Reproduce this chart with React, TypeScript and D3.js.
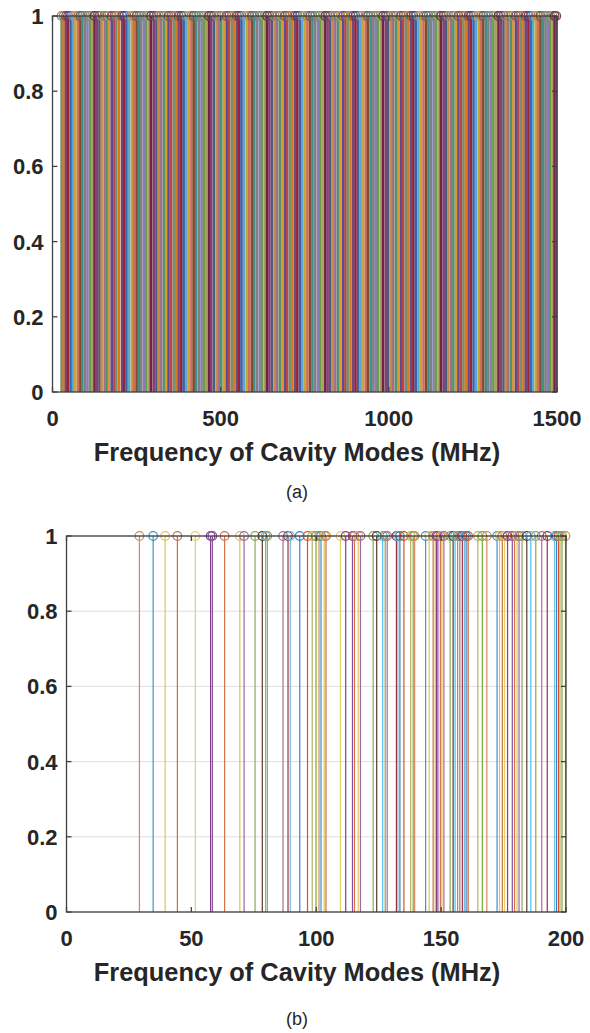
import React from 'react';
import * as d3 from 'd3';

// stem positions, MHz (dense, every stem at height 1)
const modesA = [
  27, 33, 40, 46, 54, 61, 68, 76, 83, 89, 97, 104, 112, 118, 125, 133, 140, 146, 155, 162,
  168, 176, 184, 190, 198, 207, 213, 220, 228, 236, 242, 250, 258, 264, 272, 279, 287, 293,
  301, 309, 316, 323, 331, 338, 345, 353, 361, 368, 375, 383, 390, 398, 405, 413, 420, 427,
  435, 443, 450, 457, 465, 472, 480, 488, 495, 502, 510, 518, 525, 533, 540, 548, 555, 562,
  570, 578, 585, 593, 600, 608, 616, 623, 631, 638, 645, 653, 661, 668, 676, 683, 691, 698,
  706, 713, 721, 728, 736, 743, 751, 758, 766, 773, 781, 789, 796, 803, 811, 818, 826, 834,
  841, 849, 856, 864, 871, 878, 886, 894, 901, 909, 916, 923, 931, 938, 946, 954, 961, 968,
  976, 983, 991, 998, 1006, 1013, 1021, 1028, 1036, 1043, 1051, 1058, 1066, 1073, 1080, 1088,
  1095, 1103, 1111, 1118, 1125, 1133, 1140, 1148, 1155, 1163, 1170, 1177, 1185, 1192, 1200,
  1207, 1215, 1222, 1229, 1237, 1244, 1252, 1259, 1267, 1274, 1281, 1289, 1296, 1304, 1311,
  1318, 1326, 1333, 1341, 1348, 1355, 1363, 1370, 1378, 1385, 1392, 1400, 1407, 1415, 1422,
  1429, 1437, 1444, 1451, 1459, 1466, 1473, 1480, 1487, 1493, 1498,
];

// stem positions, MHz
const modesB = [
  29.2, 34.7, 39.5, 44.4, 51.6, 57.7, 58.4, 63.3, 69.4, 71.1, 75.5, 78.4, 79.7, 80.4, 86.7,
  88.7, 89.6, 93.4, 96.5, 98.4, 99.9, 101.1, 101.9, 103.2, 103.9, 109.7, 111.8, 114.5, 115.3,
  116.8, 117.7, 122.8, 124.2, 126.6, 127.6, 128.4, 132.1, 132.7, 133.5, 135.1, 137.8, 138.8,
  139.4, 143.8, 145.2, 146.8, 147.6, 148.1, 148.7, 149.7, 150.3, 151.1, 153.6, 154.8, 155.6,
  156.6, 157.5, 158.5, 159.3, 160.0, 160.8, 164.7, 166.5, 168.3, 172.4, 173.4, 174.5, 175.4,
  176.6, 178.5, 179.4, 180.4, 181.2, 182.4, 184.3, 185.9, 187.9, 190.3, 192.5, 195.4, 196.2,
  197.0, 197.6, 198.4, 199.8,
];

const yTicks = [0, 0.2, 0.4, 0.6, 0.8, 1];
const xTicksA = [0, 500, 1000, 1500];
const xTicksB = [0, 50, 100, 150, 200];

const paletteA = [
  '#6f9272', '#d9781f', '#6c4a82', '#9a2336', '#3b64a8', '#5aa6d6', '#c4a838', '#d46a5a',
  '#7f4e30', '#3f8e88', '#808080', '#8c7cbc', '#66a040', '#ad9c68', '#6e2442', '#844274',
  '#4c5c80', '#c28c48', '#a66c8e', '#4a966c', '#dc962e', '#5c4c98', '#bb4444',
];
const paletteB = [
  '#d08a5c', '#3d94c8', '#e3c35a', '#c8704a', '#e6cf6a', '#7e3f8e', '#8a4f9a', '#d8704a',
  '#e0c060', '#9a6aa0', '#8aaa5a', '#5a3a2a', '#4dbeee', '#9aa04a', '#a87090', '#a03040',
  '#6cc0e0', '#4080c0', '#d9531e', '#b8b070', '#77ac30',
];

const FONT = '"Liberation Sans", Arial, sans-serif';
const AXIS = '#404040';
const TEXT = '#262626';

type PanelProps = {
  modes: number[];
  xTicks: number[];
  xMax: number;
  left: number;
  right: number;
  top: number;
  bottom: number;
  palette: string[];
  stemWidth: number;
  grid: boolean;
  caption: string;
  captionGap: number;
};

const Panel = ({ modes, xTicks, xMax, left, right, top, bottom, palette, stemWidth, grid, caption, captionGap }: PanelProps) => {
  const x = d3.scaleLinear().domain([0, xMax]).range([left, right]);
  const y = d3.scaleLinear().domain([0, 1]).range([bottom, top]);
  const color = d3.scaleOrdinal<number, string>().range(palette);
  const tick = 5;
  const titleX = 297; // title sits left of plot centre in the original

  return (
    <g>
      {/* grid */}
      {grid && yTicks.map(t => (
        <line key={'g' + t} x1={left} x2={right} y1={y(t)} y2={y(t)} stroke="#dedede" strokeWidth={1} />
      ))}

      {/* stems */}
      {modes.map((f, i) => (
        <g key={i} stroke={color(i)} fill="none">
          <line x1={x(f)} x2={x(f)} y1={y(0)} y2={y(1)} strokeWidth={stemWidth} />
          <circle cx={x(f)} cy={y(1)} r={4.3} strokeWidth={1.2} />
        </g>
      ))}

      {/* box */}
      <rect x={left} y={top} width={right - left} height={bottom - top} fill="none" stroke={AXIS} strokeWidth={1.3} />

      {yTicks.map(t => (
        <g key={'y' + t}>
          <line x1={left} x2={left + tick} y1={y(t)} y2={y(t)} stroke={AXIS} strokeWidth={1.3} />
          <line x1={right} x2={right - tick} y1={y(t)} y2={y(t)} stroke={AXIS} strokeWidth={1.3} />
          <text x={left - 9} y={y(t)} dy="0.36em" textAnchor="end" fontFamily={FONT} fontWeight="bold" fontSize={22} fill={TEXT}>
            {t}
          </text>
        </g>
      ))}

      {xTicks.map(t => (
        <g key={'x' + t}>
          <line x1={x(t)} x2={x(t)} y1={bottom} y2={bottom - tick} stroke={AXIS} strokeWidth={1.3} />
          <line x1={x(t)} x2={x(t)} y1={top} y2={top + tick} stroke={AXIS} strokeWidth={1.3} />
          <text x={x(t)} y={bottom + 34} textAnchor="middle" fontFamily={FONT} fontWeight="bold" fontSize={22} fill={TEXT}>
            {t}
          </text>
        </g>
      ))}

      <text x={titleX} y={bottom + 69} textAnchor="middle" fontFamily={FONT} fontWeight="bold" fontSize={25.4} fill={TEXT}>
        Frequency of Cavity Modes (MHz)
      </text>
      <text x={titleX} y={bottom + captionGap} textAnchor="middle" fontFamily={FONT} fontSize={18} fill={TEXT}>
        {caption}
      </text>
    </g>
  );
};

export default function App() {
  return (
    <div style={{ position: 'absolute', left: 0, top: 0 }}>
      <svg width={590} height={1033} style={{ display: 'block', background: '#fff' }}>
        <Panel modes={modesA} xTicks={xTicksA} xMax={1500} left={52.5} right={557} top={16} bottom={392}
          palette={paletteA} stemWidth={2.6} grid={false} caption="(a)" captionGap={106} />
        <Panel modes={modesB} xTicks={xTicksB} xMax={200} left={66.5} right={566} top={536} bottom={912}
          palette={paletteB} stemWidth={1.2} grid={true} caption="(b)" captionGap={113} />
      </svg>
    </div>
  );
}
